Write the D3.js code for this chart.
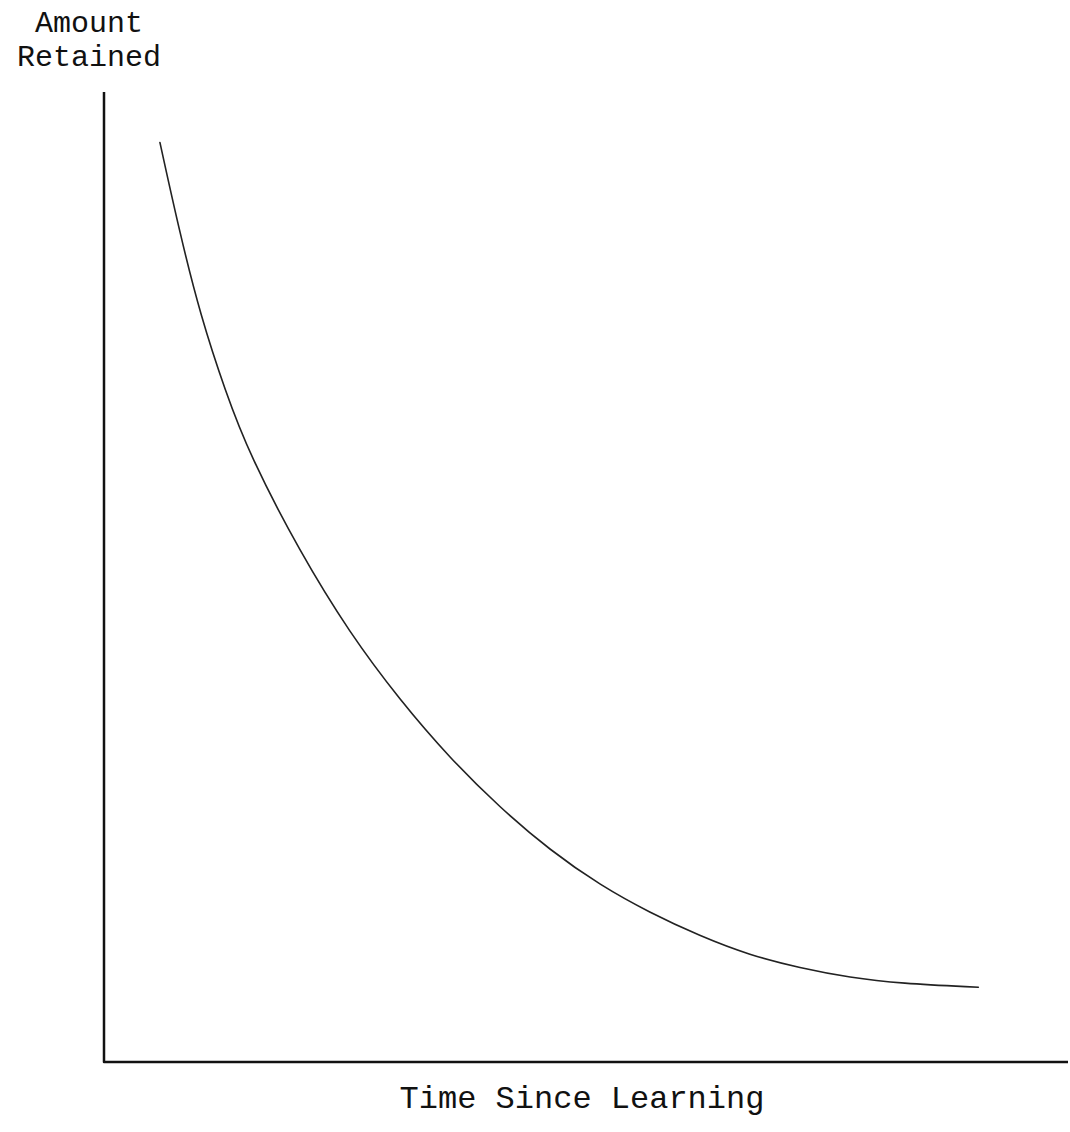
<!DOCTYPE html>
<html>
<head>
<meta charset="utf-8">
<script src="https://cdn.jsdelivr.net/npm/d3@7"></script>
<style>
  html, body { margin: 0; padding: 0; background: #fff; }
  svg { display: block; }
  .label { font-family: "Courier New", "Liberation Mono", monospace; fill: #111; }
</style>
</head>
<body>
<div class="charts-div"></div>
<script>
// forgetting curve (time and retention in 0..100 units)
const timeValues = [5.8, 7.9, 10.0, 12.6, 15.1, 20.3, 25.5, 30.7, 35.9, 41.1, 46.3, 51.5, 56.6, 61.8, 67.0, 72.2, 77.4, 82.6, 90.7];
const retainedValues = [94.8, 85.3, 77.0, 69.1, 62.6, 52.6, 44.2, 37.3, 31.3, 26.2, 21.8, 18.2, 15.4, 13.0, 11.0, 9.7, 8.7, 8.1, 7.7];
const yTitleLines = ["Amount", "Retained"];
const xTitle = "Time Since Learning";

const chartGeneration = () => {
    const width = 1070,
        height = 1132;
    const margin = { top: 92, right: 2, bottom: 70, left: 104 };

    const svg = d3.select(".charts-div").append("svg").attr("width", width).attr("height", height);

    const x = d3.scaleLinear().domain([0, 100]).range([margin.left, width - margin.right]);
    const y = d3.scaleLinear().domain([0, 100]).range([height - margin.bottom, margin.top]);

    const points = timeValues.map((t, i) => [t, retainedValues[i]]);

    // axes: plain L-shaped lines, no ticks
    const axisPath = d3.path();
    axisPath.moveTo(x(0), y(100));
    axisPath.lineTo(x(0), y(0));
    axisPath.lineTo(x(100), y(0));
    svg.append("path")
        .attr("d", axisPath.toString())
        .attr("fill", "none")
        .attr("stroke", "#111")
        .attr("stroke-width", 2.5)
        .attr("stroke-linejoin", "round");

    // basis curve smooths out the small reading errors of the hand-drawn line
    const line = d3
        .line()
        .x((d) => x(d[0]))
        .y((d) => y(d[1]))
        .curve(d3.curveBasis);

    svg.append("path")
        .datum(points)
        .attr("d", line)
        .attr("fill", "none")
        .attr("stroke", "#222")
        .attr("stroke-width", 1.6)
        .attr("stroke-linecap", "round");

    // y title, two lines above the axis
    yTitleLines.forEach((t, i) => {
        svg.append("text")
            .attr("class", "label")
            .attr("font-size", 30)
            .attr("text-anchor", "middle")
            .attr("x", 89)
            .attr("y", 32 + i * 34)
            .text(t);
    });

    svg.append("text")
        .attr("class", "label")
        .attr("font-size", 32)
        .attr("text-anchor", "middle")
        .attr("x", 582)
        .attr("y", 1108)
        .text(xTitle);
};

chartGeneration();
</script>
</body>
</html>
